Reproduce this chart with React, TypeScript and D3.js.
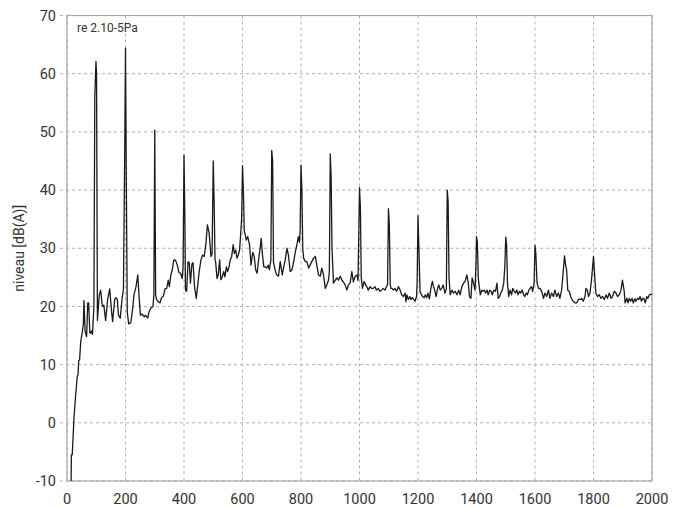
import React from 'react'
import * as d3 from 'd3'

// spectrum, [frequency Hz, level dB(A)]
const lowBand: [number, number][] = [
  [14, -10], [15, -5.5], [18, -5.5], [24, 1], [30, 5], [35, 8], [38, 8.3],
  [40, 10.7], [43, 10.8], [47, 14], [52, 15.5], [56, 17], [58, 21], [62, 15.7],
  [67, 14.8], [71, 20.6], [74, 20.6], [78, 15.5], [81, 15.4], [84, 15.8], [87, 15.2],
  [92, 20], [95, 56], [99, 62.1], [101, 60], [104, 17.6], [110, 21.8], [115, 22.8],
  [121, 20], [126, 20.2], [132, 17.6], [139, 21.2], [146, 23], [153, 18.8], [156, 17.4],
  [163, 21.2], [167, 21.5], [172, 21.2], [176, 18.5], [182, 18], [188, 21.2], [193, 23],
  [197, 45], [200, 64.4], [203, 40], [206, 19], [211, 17], [218, 17.2], [224, 19.4],
  [229, 22], [236, 23.4], [242, 25.4], [246, 22], [251, 18.5], [257, 18.7], [264, 18.2],
  [268, 18.5], [276, 18], [280, 19], [286, 19.7], [294, 20], [297, 22], [300, 50.3],
  [303, 22], [306, 21.2], [312, 20.8], [318, 20.6], [323, 21.5], [329, 21.7], [335, 23],
  [341, 23.1], [346, 24.5], [350, 23.4], [355, 25.4], [360, 26.3], [365, 28], [369, 28],
  [373, 27.7], [377, 27.1], [383, 25.8], [388, 25.7], [394, 24.8], [397, 27], [400, 46],
  [403, 35], [405, 22.8], [409, 22.6], [414, 27.7], [418, 27.5], [422, 24], [427, 27.3],
  [431, 27.5], [436, 23.4], [442, 21.4], [447, 23.7], [452, 26], [458, 28], [463, 28.8],
  [469, 28.6], [475, 30.8], [480, 34], [486, 32.6], [492, 28.6], [496, 29], [500, 45],
]

const midBand: [number, number][] = [
  [503, 38], [506, 28], [508, 27.7], [513, 24.8], [517, 25.4], [522, 28], [526, 24.6],
  [531, 25.1], [536, 26], [540, 25.1], [545, 26.8], [549, 26], [554, 26.8], [558, 28],
  [563, 28.6], [568, 30.6], [572, 29.1], [577, 29.7], [581, 28.3], [586, 28.9], [590, 29.7],
  [594, 32.6], [597, 35], [600, 44.2], [603, 40], [606, 33], [608, 32.6], [613, 31.4],
  [618, 32], [624, 30.6], [629, 27.1], [635, 29.3], [640, 28.6], [645, 26.3], [650, 25.7],
  [655, 28], [661, 30.3], [664, 31.7], [668, 29], [673, 26.8], [678, 26.8], [683, 26.6],
  [688, 27.1], [692, 26.3], [697, 28], [700, 46.8], [703, 45], [706, 27.5], [708, 27.1],
  [713, 26], [717, 25.4], [723, 25.2], [729, 27.7], [736, 25.4], [740, 26.6], [746, 28],
  [752, 30], [757, 28.8], [763, 26], [769, 26.3], [775, 27.7], [780, 29.2], [786, 30.6],
  [791, 32], [795, 31], [797, 33], [800, 44.3], [803, 40], [806, 30], [809, 28.3],
  [815, 27.7], [820, 27.7], [826, 26.6], [831, 27.1], [837, 27.7], [843, 28.3], [849, 28.6],
  [854, 27.1], [860, 25.4], [866, 25.2], [871, 26.6], [877, 25.4], [883, 23.1], [888, 23.7],
  [894, 24.5], [897, 26], [900, 46.2], [903, 42.3], [906, 30], [911, 24], [917, 24.5],
  [923, 24.9], [928, 24.5], [934, 25.2], [940, 24.5], [945, 24.2], [951, 23.7], [957, 22.8],
  [962, 23.7], [968, 24], [974, 26], [979, 24.2], [985, 25.2], [991, 25.4], [995, 24.5],
  [1000, 40.4],
]

const highBand: [number, number][] = [
  [1003, 37], [1006, 25], [1010, 23.1], [1016, 24.3], [1021, 23.7], [1025, 23.4], [1030, 22.8],
  [1036, 23.4], [1041, 23.1], [1047, 23.1], [1053, 23.4], [1058, 22.8], [1064, 23.1], [1070, 22.6],
  [1075, 22.8], [1081, 23.1], [1087, 22.8], [1092, 23.4], [1096, 23.7], [1099, 36.8], [1102, 34],
  [1105, 24], [1107, 23.1], [1111, 23.1], [1116, 22.8], [1121, 23.1], [1127, 22.6], [1133, 23.4],
  [1139, 22.8], [1144, 22], [1150, 21.7], [1156, 22.3], [1159, 20.8], [1162, 22], [1167, 21.2],
  [1172, 21.7], [1176, 21.2], [1181, 21.5], [1185, 21.2], [1190, 20.9], [1195, 21.7], [1197, 24],
  [1200, 35.6], [1203, 30], [1207, 22.5], [1212, 22], [1216, 21.7], [1221, 21.5], [1225, 22],
  [1230, 21.5], [1234, 22.3], [1239, 21.3], [1244, 23.1], [1249, 24.3], [1253, 23.4], [1258, 22.6],
  [1262, 21.7], [1267, 23.1], [1271, 23.7], [1276, 22.8], [1281, 23.1], [1286, 23.7], [1292, 22.3],
  [1297, 23], [1300, 40], [1303, 38], [1306, 25], [1310, 22], [1316, 22.8], [1321, 22.3],
  [1327, 22.6], [1333, 22], [1339, 22.8], [1344, 22], [1350, 23.4], [1356, 24], [1361, 24.3],
  [1367, 25.4], [1372, 24], [1376, 21.7], [1381, 21.4], [1385, 24.9], [1390, 24], [1395, 22.8],
  [1398, 27], [1400, 32], [1403, 31], [1406, 25], [1408, 24], [1413, 22], [1418, 22.8],
  [1422, 22.6], [1427, 22.8], [1431, 22.3], [1436, 22.8], [1440, 22], [1445, 22.8], [1450, 22.6],
  [1454, 22], [1459, 22.8], [1465, 22.6], [1470, 24], [1474, 21.4], [1479, 21.7], [1483, 22.3],
  [1488, 22.8], [1493, 24], [1497, 27], [1500, 31.9], [1503, 30.5], [1506, 24], [1510, 21.7],
  [1515, 22.8], [1520, 22], [1524, 23.1], [1529, 22.6], [1533, 22.3], [1538, 22.8], [1542, 22],
  [1547, 22.6], [1551, 22.3], [1556, 22.8], [1561, 22], [1565, 21.7], [1570, 22.3], [1574, 22],
  [1579, 22.8], [1583, 23.1], [1588, 23.4], [1592, 22.6], [1597, 24], [1600, 30.5], [1603, 29],
  [1607, 24], [1612, 23.1], [1617, 23.1], [1623, 22.6], [1629, 21.4], [1634, 22.3], [1640, 21.7],
  [1646, 22.8], [1651, 21.4], [1657, 22.3], [1663, 21.7], [1668, 22.8], [1674, 21.7], [1680, 22.3],
  [1685, 21.4], [1691, 22.8], [1697, 26.3], [1701, 28.7], [1705, 27], [1708, 26.3], [1712, 22.8],
  [1717, 22.6], [1722, 21.7], [1726, 21.2], [1731, 20.9], [1737, 20.6], [1743, 20.6], [1748, 21.2],
  [1754, 21.2], [1759, 21.4], [1765, 20.9], [1771, 21.7], [1774, 23.1], [1779, 22.8], [1783, 21.7],
  [1788, 22.3], [1793, 24.5], [1797, 26.8], [1800, 28.6], [1805, 24.5], [1808, 22.3], [1814, 21.7],
  [1820, 22], [1825, 21.4], [1831, 21.7], [1837, 21.2], [1843, 22], [1848, 21.4], [1854, 22.3],
  [1860, 21.4], [1865, 21.7], [1871, 22.6], [1877, 22.3], [1882, 21.7], [1888, 22], [1894, 22.8],
  [1899, 24.5], [1905, 22.6], [1908, 20.6], [1914, 21.4], [1918, 20.6], [1922, 21.4], [1927, 20.9],
  [1932, 21.4], [1936, 20.6], [1941, 21.3], [1945, 20.9], [1950, 21.4], [1955, 21.2], [1959, 21.7],
  [1964, 20.9], [1968, 21.4], [1973, 21.3], [1977, 20.6], [1982, 21.7], [1986, 21.4], [1991, 22],
  [1997, 22.1], [2000, 22],
]

const xTicks = [0, 200, 400, 600, 800, 1000, 1200, 1400, 1600, 1800, 2000]
const yTicks = [-10, 0, 10, 20, 30, 40, 50, 60, 70]

const W = 683
const H = 508
const margin = { top: 15.5, right: 31, bottom: 27, left: 67 }

export default function App() {
  const x = d3.scaleLinear().domain([0, 2000]).range([margin.left, W - margin.right])
  const y = d3.scaleLinear().domain([-10, 70]).range([H - margin.bottom, margin.top])

  const data = [...lowBand, ...midBand, ...highBand]
  const line = d3.line<[number, number]>()
    .x(d => x(d[0]))
    .y(d => y(d[1]))

  const font = 'Roboto, "Noto Sans", sans-serif'
  const gridColor = '#b0b0b0'

  return (
    <svg width={W} height={H} style={{ position: 'absolute', left: 0, top: 0, background: '#fff' }}
      fontFamily={font}>
      <defs>
        <clipPath id="plot">
          <rect x={margin.left} y={margin.top} width={W - margin.left - margin.right}
            height={H - margin.top - margin.bottom} />
        </clipPath>
      </defs>

      {/* horizontal grid, running a little past the left axis */}
      {yTicks.map(t => (
        <line key={'h' + t} x1={margin.left - 7} x2={W - margin.right} y1={y(t)} y2={y(t)}
          stroke={gridColor} strokeDasharray="3,3" />
      ))}
      {xTicks.map(t => (
        <line key={'v' + t} x1={x(t)} x2={x(t)} y1={margin.top} y2={H - margin.bottom}
          stroke={gridColor} strokeDasharray="3,3" />
      ))}

      <rect x={margin.left} y={margin.top} width={W - margin.left - margin.right}
        height={H - margin.top - margin.bottom} fill="none" stroke="#a8a8a8" strokeWidth={1.2} />

      <path d={line(data) || ''} fill="none" stroke="#1a1a1a" strokeWidth={1.3}
        strokeLinejoin="round" clipPath="url(#plot)" />

      {yTicks.map(t => (
        <text key={'yl' + t} x={56} y={y(t)} dy="0.36em" textAnchor="end" fontSize={14.5} fill="#333">
          {t}
        </text>
      ))}
      {xTicks.map(t => (
        <text key={'xl' + t} x={x(t)} y={504} textAnchor="middle" fontSize={14.5} fill="#333">
          {t}
        </text>
      ))}

      <text x={77} y={31.5} fontSize={12} fill="#333">re 2.10-5Pa</text>

      <text transform={`translate(24,${(margin.top + H - margin.bottom) / 2}) rotate(-90)`}
        textAnchor="middle" fontSize={14} fill="#333">niveau [dB(A)]</text>
    </svg>
  )
}
